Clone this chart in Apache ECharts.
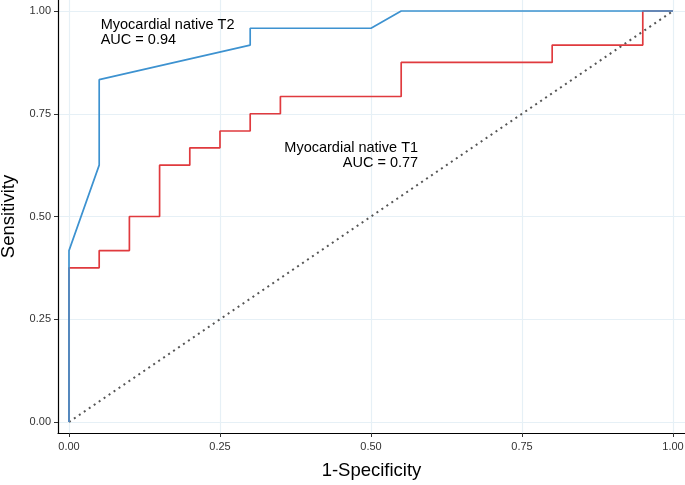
<!DOCTYPE html>
<html><head><meta charset="utf-8">
<script src="https://cdn.jsdelivr.net/npm/echarts@6/dist/echarts.min.js"></script>
<style>html,body{margin:0;padding:0;background:#fff}#c{width:685px;height:485px}</style>
</head><body><div id="c"></div>
<script>
// ROC curve: Myocardial native T2 (blue)
const t2FPR = [0, 0, 0.05, 0.05, 0.30, 0.30, 0.50, 0.55, 1.00];
const t2TPR = [0, 0.417, 0.625, 0.833, 0.917, 0.958, 0.958, 1.00, 1.00];
// ROC curve: Myocardial native T1 (red, step)
const t1FPR = [0, 0, 0.05, 0.05, 0.10, 0.10, 0.15, 0.15, 0.20, 0.20, 0.25, 0.25, 0.30, 0.30, 0.35, 0.35, 0.55, 0.55, 0.80, 0.80, 0.95, 0.95, 1.00];
const t1TPR = [0, 0.375, 0.375, 0.417, 0.417, 0.500, 0.500, 0.625, 0.625, 0.667, 0.667, 0.708, 0.708, 0.750, 0.750, 0.792, 0.792, 0.875, 0.875, 0.917, 0.917, 1.00, 1.00];
const refLine = [[0, 0], [1, 1]];
const tickValues = [0, 0.25, 0.5, 0.75, 1.0];
const labelT2 = ['Myocardial native T2', 'AUC = 0.94'];
const labelT1 = ['Myocardial native T1', 'AUC = 0.77'];
const xTitle = '1-Specificity';
const yTitle = 'Sensitivity';

const zip = (a, b) => a.map((v, i) => [v, b[i]]);
const font = 'Liberation Sans, Arial, Helvetica, sans-serif';
const chart = echarts.init(document.getElementById('c'));
const gridColor = '#e6f0f6';
const axisCommon = {
  type: 'value',
  axisLine: { show: true, onZero: false, lineStyle: { color: '#000', width: 1.2 } },
  axisTick: { show: true, length: 4, customValues: tickValues, lineStyle: { color: '#333', width: 1 } },
  axisLabel: { customValues: tickValues, color: '#333', fontFamily: font, fontSize: 11, formatter: v => v.toFixed(2) },
  splitLine: { show: true, lineStyle: { color: gridColor, width: 1.2 } },
  nameTextStyle: { fontFamily: font, fontSize: 18.5, color: '#000' }
};
chart.setOption({
  animation: false,
  grid: { left: 58, right: 0, top: 0, bottom: 52, containLabel: false, outerBoundsMode: 'none' },
  xAxis: Object.assign({}, axisCommon, {
    min: -0.0182, max: 1.0199,
    name: xTitle, nameLocation: 'middle', nameGap: 28,
    axisLabel: Object.assign({}, axisCommon.axisLabel, { margin: 8 })
  }),
  yAxis: Object.assign({}, axisCommon, {
    min: -0.0268, max: 1.0268,
    name: yTitle, nameLocation: 'middle', nameGap: 37,
    axisLabel: Object.assign({}, axisCommon.axisLabel, { margin: 7 })
  }),
  series: [
    {
      type: 'line', data: refLine, symbol: 'none', z: 2,
      lineStyle: { color: '#555', width: 2, type: [2, 4] }
    },
    {
      type: 'line', data: zip(t1FPR, t1TPR), symbol: 'none', z: 3,
      lineStyle: { color: '#e03a3e', width: 1.7 }
    },
    {
      type: 'line', data: zip(t2FPR, t2TPR), symbol: 'none', z: 4,
      lineStyle: { color: '#3d92d0', width: 1.7 }
    }
  ],
  graphic: []
});
// annotations positioned in data coordinates
function txt(text, pos, align) {
  const p = chart.convertToPixel({ gridIndex: 0 }, pos);
  return { type: 'text', z: 100, x: p[0], y: p[1], style: { text: text, font: '14.5px ' + font, fill: '#000', align: align, verticalAlign: 'middle' } };
}
chart.setOption({
  graphic: [
    txt(labelT2[0], [0.0525, 0.966], 'left'),
    txt(labelT2[1], [0.0525, 0.929], 'left'),
    txt(labelT1[0], [0.578, 0.667], 'right'),
    txt(labelT1[1], [0.578, 0.630], 'right')
  ]
});
</script></body></html>
